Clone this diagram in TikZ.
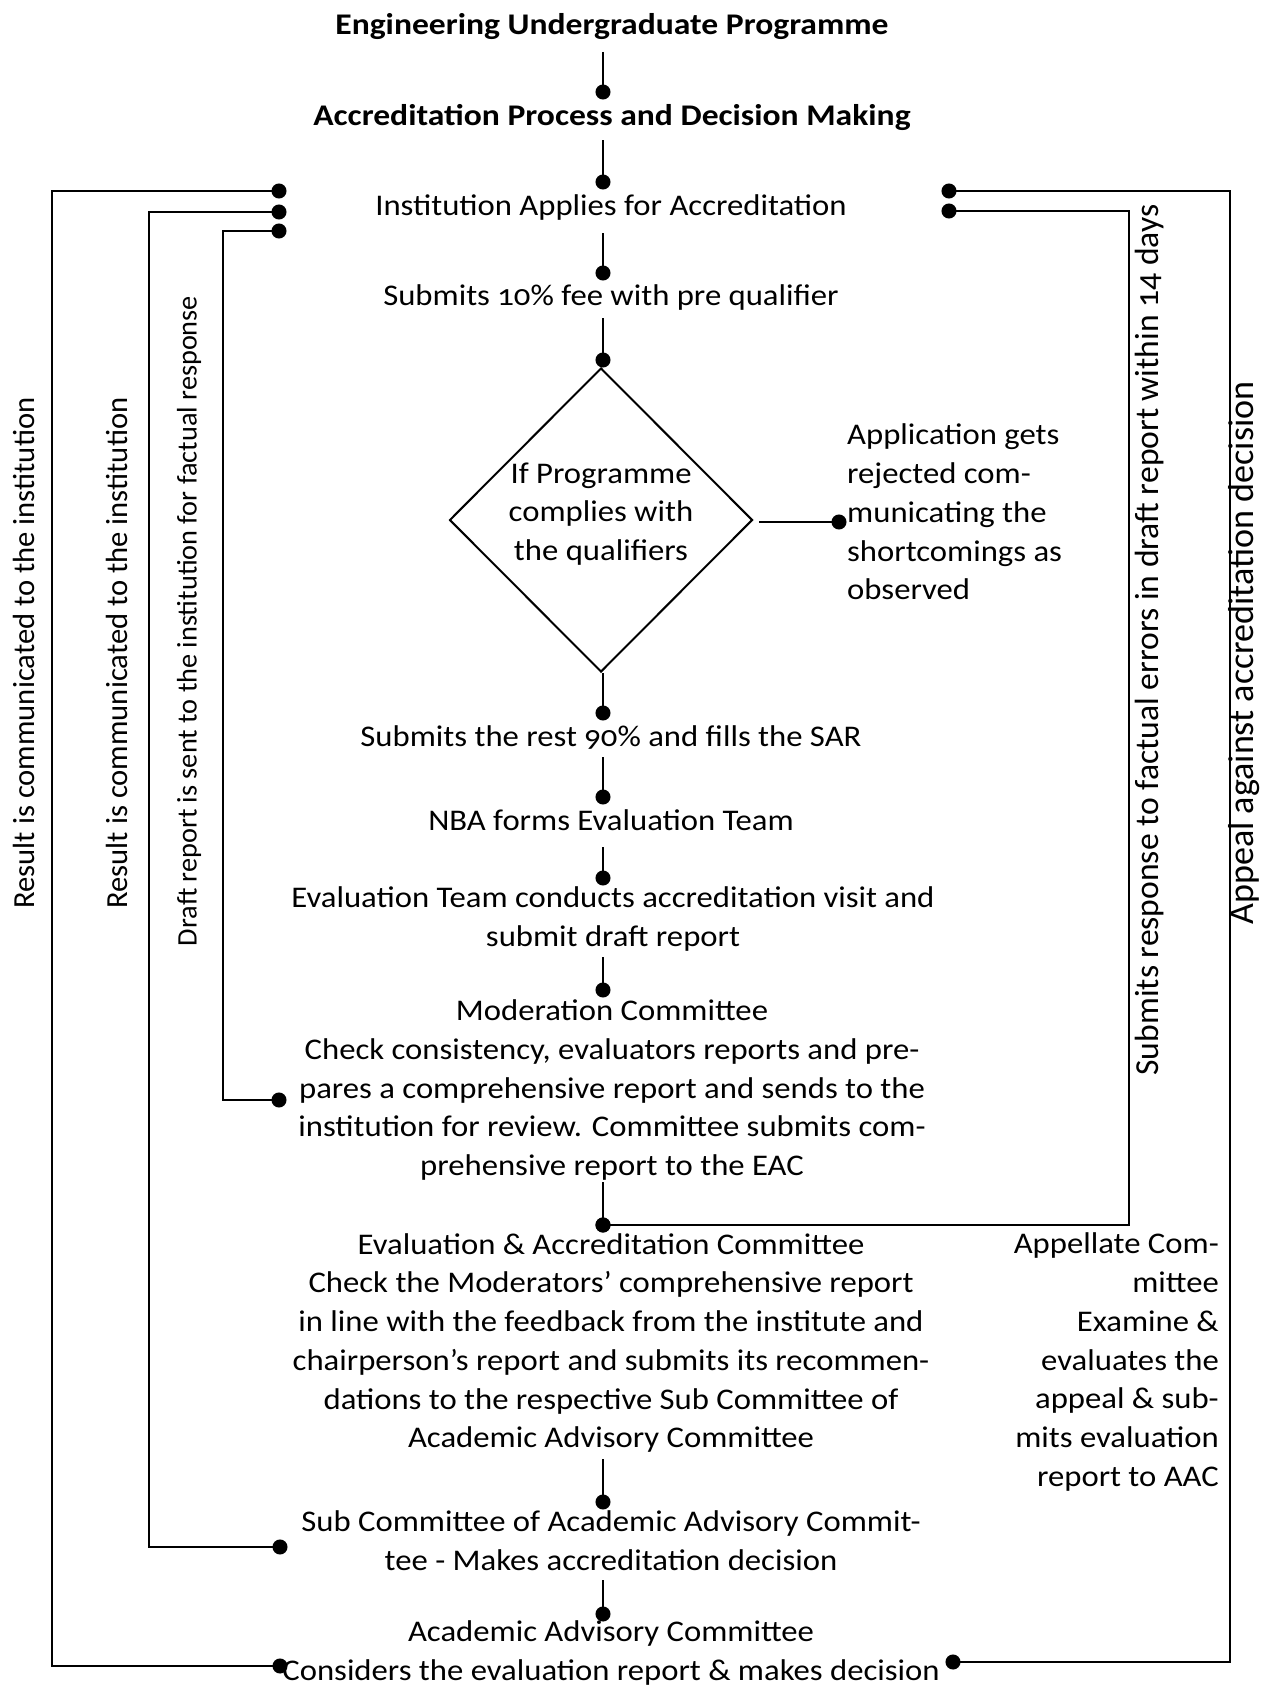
\documentclass[tikz,border=0pt]{standalone}
\usepackage{graphicx}
\usepackage{fontspec}
\setmainfont{Carlito}[Numbers=OldStyle, FakeStretch=1.09]
\newfontfamily\ttlfont{Carlito}[Numbers=OldStyle, FakeStretch=1.12]
\newfontfamily\vfont{Carlito}[Numbers=OldStyle]
\usetikzlibrary{shapes.geometric,arrows.meta}
\begin{document}
\begin{tikzpicture}[x=1pt,y=-1pt,
  txt/.style={inner sep=0pt, align=center, font=\fontsize{30}{38.7}\selectfont},
  ttl/.style={inner sep=0pt, align=center, font=\ttlfont\fontsize{30}{38.7}\selectfont\bfseries},
  vtxt/.style={inner sep=0pt, rotate=90, font=\vfont\fontsize{28}{30}\selectfont},
  conn/.style={line width=2.9pt, -{Circle[length=15pt,width=15pt]}, shorten >=-7.5pt},
  conn2/.style={line width=2.9pt, {Circle[length=15pt,width=15pt]}-{Circle[length=15pt,width=15pt]}, shorten >=-7.5pt, shorten <=-7.5pt},
  decision/.style={diamond, draw, line width=2pt, minimum width=303pt, minimum height=304pt, inner sep=0pt},
]
\useasboundingbox (0,0) rectangle (1261,1686);

% ---- main column ----
\node[ttl] (t1) at (612,27) {Engineering Undergraduate Programme};
\node[ttl] (t2) at (612,117) {Accreditation Process and Decision Making};
\node[txt] (inst) at (611,207) {Institution Applies for Accreditation};
\node[txt] (fee) at (611,297) {Submits 10\% fee with pre qualifier};
\node[decision] (dm) at (601,520) {};
\node[txt] (dmtxt) at (601,514) {If Programme\\complies with\\the qualifiers};
\node[txt, anchor=west, align=left] (rej) at (847,512) {Application gets\\rejected com-\\municating the\\shortcomings as\\observed};
\node[txt] (sar) at (611,737) {Submits the rest 90\% and fills the SAR};
\node[txt] (nba) at (611,820) {NBA forms Evaluation Team};
\node[txt] (evt) at (613,919) {Evaluation Team conducts accreditation visit and\\submit draft report};
\node[txt] (mod) at (612,1090) {Moderation Committee\\Check consistency, evaluators reports and pre-\\pares a comprehensive report and sends to the\\institution for review. Committee submits com-\\prehensive report to the EAC};
\node[txt] (eac) at (611,1343) {Evaluation \& Accreditation Committee\\Check the Moderators’ comprehensive report\\in line with the feedback from the institute and\\chairperson’s report and submits its recommen-\\dations to the respective Sub Committee of\\Academic Advisory Committee};
\node[txt, anchor=east, align=right] (app) at (1219,1362) {Appellate Com-\\mittee\\Examine \&\\evaluates the\\appeal \& sub-\\mits evaluation\\report to AAC};
\node[txt] (sub) at (611,1541) {Sub Committee of Academic Advisory Commit-\\tee - Makes accreditation decision};
\node[txt] (aac) at (611,1653) {Academic Advisory Committee\\Considers the evaluation report \& makes decision};

% ---- side labels ----
\node[vtxt] (v1) at (24,653) {\resizebox{511pt}{!}{Result is communicated to the institution}};
\node[vtxt] (v2) at (117,653) {\resizebox{511pt}{!}{Result is communicated to the institution}};
\node[vtxt] (v3) at (189,621) {\resizebox{650pt}{!}{Draft report is sent to the institution for factual response}};
\node[vtxt] (v4) at (1150,640) {\resizebox{871pt}{!}{Submits response to factual errors in draft report within 14 days}};
\node[vtxt] (v5) at (1244,653) {\resizebox{543pt}{!}{Appeal against accreditation decision}};

% ---- connector points ----
\coordinate (p1a) at (603,52);   \coordinate (p1b) at (603,92);
\coordinate (p2a) at (603,140);  \coordinate (p2b) at (603,182);
\coordinate (p3a) at (603,233);  \coordinate (p3b) at (603,273);
\coordinate (p4a) at (603,318);  \coordinate (p4b) at (603,360);
\coordinate (p5b) at (603,713);
\coordinate (p6a) at (603,757);  \coordinate (p6b) at (603,797);
\coordinate (p7a) at (603,847);  \coordinate (p7b) at (603,878);
\coordinate (p8a) at (603,957);  \coordinate (p8b) at (603,990);
\coordinate (p9a) at (603,1182); \coordinate (p9b) at (603,1225);
\coordinate (p10a) at (603,1459); \coordinate (p10b) at (603,1502);
\coordinate (p11a) at (603,1580); \coordinate (p11b) at (603,1614);
\coordinate (rja) at (759,522);  \coordinate (rjb) at (839,522);

\coordinate (inL1) at (279,191); \coordinate (inL2) at (279,212); \coordinate (inL3) at (279,231);
\coordinate (inR1) at (949,191); \coordinate (inR2) at (949,211);
\coordinate (aacL) at (280,1666); \coordinate (aacR) at (953,1662);
\coordinate (subL) at (280,1547);
\coordinate (modL) at (279,1100);

% ---- main chain ----
\draw[conn] (p1a) -- (p1b);
\draw[conn] (p2a) -- (p2b);
\draw[conn] (p3a) -- (p3b);
\draw[conn] (p4a) -- (p4b);
\draw[conn] (p5b |- dm.south) -- (p5b);
\draw[conn] (p6a) -- (p6b);
\draw[conn] (p7a) -- (p7b);
\draw[conn] (p8a) -- (p8b);
\draw[conn] (p9a) -- (p9b);
\draw[conn] (p10a) -- (p10b);
\draw[conn] (p11a) -- (p11b);
\draw[conn] (rja) -- (rjb);

% ---- loops ----
\draw[conn2] (aacL) -- (52,1666) -- (52,191) -- (inL1);
\draw[conn2] (subL) -- (149,1547) -- (149,212) -- (inL2);
\draw[conn2] (modL) -- (223,1100) -- (223,231) -- (inL3);
\draw[conn2] (aacR) -- (1230,1662) -- (1230,191) -- (inR1);
\draw[conn2] (p9b) -- (1129,1225) -- (1129,211) -- (inR2);
\end{tikzpicture}
\end{document}
